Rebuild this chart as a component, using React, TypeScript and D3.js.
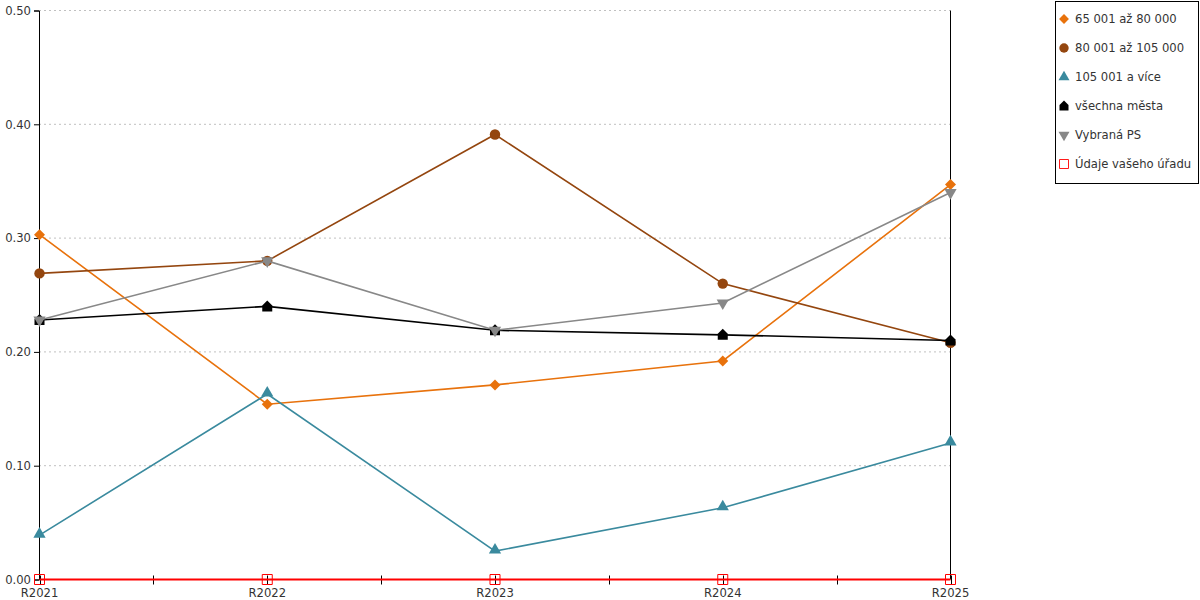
import React, { useEffect, useRef } from "react";
import * as d3 from "d3";

const categories = ["R2021", "R2022", "R2023", "R2024", "R2025"];
const yTicks = [0, 0.1, 0.2, 0.3, 0.4, 0.5];

const seriesNames = [
  "65 001 až 80 000",
  "80 001 až 105 000",
  "105 001 a více",
  "všechna města",
  "Vybraná PS",
  "Údaje vašeho úřadu",
];
const v65to80 = [0.303, 0.154, 0.171, 0.192, 0.347];
const v80to105 = [0.269, 0.28, 0.391, 0.26, 0.208];
const v105plus = [0.039, 0.163, 0.025, 0.063, 0.12];
const vAllCities = [0.228, 0.24, 0.219, 0.215, 0.21];
const vSelectedPS = [0.228, 0.28, 0.219, 0.243, 0.34];
const vYourOffice = [0, 0, 0, 0, 0];

const seriesValues = [v65to80, v80to105, v105plus, vAllCities, vSelectedPS, vYourOffice];
const seriesColors = ["#e8720c", "#94460f", "#3a8a9e", "#000000", "#888888", "#ff0000"];

const diamondPath = "M0,-5.5L5.5,0L0,5.5L-5.5,0Z";
const housePath = "M-5,5L5,5L5,-1L0,-6L-5,-1Z";
const squarePath = "M-5,-5L5,-5L5,5L-5,5Z";

function markerPath(i: number): string {
  const sym = d3.symbol();
  if (i === 0) return diamondPath;
  if (i === 1) return sym.type(d3.symbolCircle).size(85)()!;
  if (i === 2) return sym.type(d3.symbolTriangle).size(65)()!;
  if (i === 3) return housePath;
  if (i === 4) return sym.type(d3.symbolTriangle).size(65)()!;
  return squarePath;
}

export default function App() {
  const ref = useRef<SVGSVGElement>(null);

  useEffect(() => {
    const svg = d3.select(ref.current!);
    svg.selectAll("*").remove();
    const font = "DejaVu Sans, Verdana, sans-serif";
    const fontSize = 11.6;

    const x = d3.scalePoint().domain(categories).range([39.5, 950.5]);
    const y = d3.scaleLinear().domain([0, 0.5]).range([579.5, 10.5]);
    const step = x.step();

    // grid
    svg
      .append("g")
      .selectAll("line")
      .data(yTicks.filter((t) => t > 0))
      .join("line")
      .attr("x1", 39)
      .attr("x2", 950)
      .attr("y1", (d) => y(d))
      .attr("y2", (d) => y(d))
      .attr("stroke", "#c0c0c0")
      .attr("stroke-dasharray", "2,3");

    // y axis
    const yAxis = svg
      .append("g")
      .attr("transform", "translate(39,0)")
      .call(
        d3
          .axisLeft(y)
          .tickValues(yTicks)
          .tickFormat(d3.format(".2f"))
          .tickSize(5)
          .tickPadding(3)
          .offset(0.5),
      );
    yAxis.select(".domain").attr("stroke", "#000");
    yAxis.selectAll("text").attr("font-family", font).attr("font-size", fontSize).attr("fill", "#333");

    // right border
    svg
      .append("line")
      .attr("x1", x("R2025")!)
      .attr("x2", x("R2025")!)
      .attr("y1", y(0.5))
      .attr("y2", y(0))
      .attr("stroke", "#000");

    // x axis
    const xg = svg.append("g");
    xg.append("line")
      .attr("x1", 39)
      .attr("x2", 950)
      .attr("y1", y(0))
      .attr("y2", y(0))
      .attr("stroke", "#000");
    xg.selectAll(".mid")
      .data(categories.slice(0, -1))
      .join("line")
      .attr("class", "mid")
      .attr("x1", (d) => Math.round(x(d)! + step / 2) + 0.5)
      .attr("x2", (d) => Math.round(x(d)! + step / 2) + 0.5)
      .attr("y1", y(0) - 4)
      .attr("y2", y(0) + 5)
      .attr("stroke", "#000");
    xg.selectAll(".cat")
      .data(categories)
      .join("line")
      .attr("class", "cat")
      .attr("x1", (d) => Math.round(x(d)!) + 0.5)
      .attr("x2", (d) => Math.round(x(d)!) + 0.5)
      .attr("y1", y(0) - 4)
      .attr("y2", y(0) + 5)
      .attr("stroke", "#000");
    xg.selectAll("text")
      .data(categories)
      .join("text")
      .attr("x", (d) => x(d)!)
      .attr("y", 597)
      .attr("text-anchor", "middle")
      .attr("font-family", font)
      .attr("font-size", fontSize)
      .attr("fill", "#333")
      .text((d) => d);

    // series
    const line = d3
      .line<number>()
      .x((_, i) => x(categories[i])!)
      .y((d) => y(d));

    seriesValues.forEach((vals, s) => {
      const g = svg.append("g");
      const color = seriesColors[s];
      const isOffice = s === 5;
      g.append("path")
        .attr("d", line(vals)!)
        .attr("fill", "none")
        .attr("stroke", color)
        .attr("stroke-width", isOffice ? 2 : 1.6);
      g.selectAll("path.m")
        .data(vals)
        .join("path")
        .attr("class", "m")
        .attr("d", markerPath(s))
        .attr("transform", (d, i) => {
          const rot = s === 4 ? " rotate(180)" : "";
          const dy = s === 2 ? -1 : 0;
          return `translate(${x(categories[i])},${y(d) + dy})${rot}`;
        })
        .attr("fill", isOffice ? "none" : color)
        .attr("stroke", isOffice ? color : "none")
        .attr("stroke-width", 1);
    });

    // legend
    const lg = svg.append("g");
    lg.append("rect")
      .attr("x", 1055.5)
      .attr("y", 1.5)
      .attr("width", 143)
      .attr("height", 182)
      .attr("fill", "#fff")
      .attr("stroke", "#000");
    seriesNames.forEach((name, s) => {
      const cy = 19 + s * 29;
      const scale = s === 5 ? 0.9 : 0.9;
      const rot = s === 4 ? " rotate(180)" : "";
      lg.append("path")
        .attr("d", markerPath(s))
        .attr("transform", `translate(1064,${cy}) scale(${scale})${rot}`)
        .attr("fill", s === 5 ? "#fff" : seriesColors[s])
        .attr("stroke", s === 5 ? seriesColors[s] : "none");
      lg.append("text")
        .attr("x", 1075)
        .attr("y", cy + 4)
        .attr("font-family", font)
        .attr("font-size", fontSize)
        .attr("fill", "#333")
        .text(name);
    });
  }, []);

  return (
    <svg
      ref={ref}
      width={1200}
      height={600}
      style={{ position: "absolute", left: 0, top: 0, background: "#fff" }}
    />
  );
}
